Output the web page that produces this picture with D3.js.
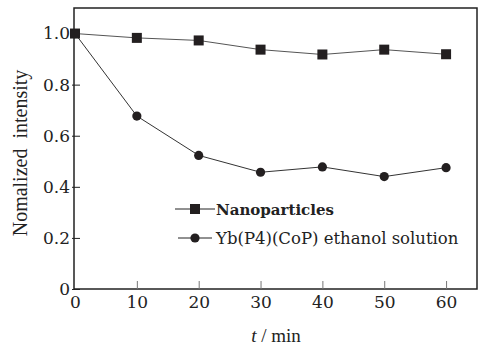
<!DOCTYPE html>
<html>
<head>
<meta charset="utf-8">
<script src="https://cdn.jsdelivr.net/npm/d3@7"></script>
<style>
  body { margin: 0; background: #fff; }
  svg text { font-family: "DejaVu Serif", "Liberation Serif", serif; fill: #222; }
  svg text.times { font-family: "Liberation Serif", serif; }
</style>
</head>
<body>
<div id="viz"></div>
<script>
const times = [0, 10, 20, 30, 40, 50, 60];
const nanoValues = [1.0, 0.983, 0.973, 0.937, 0.918, 0.937, 0.919];
const solutionValues = [1.0, 0.677, 0.523, 0.457, 0.478, 0.44, 0.475];
const xTicks = [0, 10, 20, 30, 40, 50, 60];
const yTicks = [0, 0.2, 0.4, 0.6, 0.8, 1.0];
const seriesNames = ['Nanoparticles', 'Yb(P4)(CoP) ethanol solution'];

const width = 487, height = 345;
const plotLeft = 74, plotRight = 477, plotTop = 8, plotBottom = 289;

const svg = d3.select('#viz').append('svg')
  .attr('width', width)
  .attr('height', height);

const x = d3.scaleLinear().domain([0, 65]).range([plotLeft + 1, plotRight]);
const y = d3.scaleLinear().domain([0, 1.1]).range([plotBottom, plotTop]);

// frame
svg.append('rect')
  .attr('x', plotLeft).attr('y', plotTop)
  .attr('width', plotRight - plotLeft).attr('height', plotBottom - plotTop)
  .attr('fill', 'none').attr('stroke', '#222').attr('stroke-width', 1.5);

// x axis
const xAxis = d3.axisBottom(x).tickValues(xTicks).tickSizeInner(-8).tickSizeOuter(0)
  .tickPadding(7).tickFormat(d3.format('d'));
const gx = svg.append('g').attr('transform', `translate(0,${plotBottom})`).call(xAxis);
gx.select('.domain').remove();
gx.selectAll('.tick line').attr('stroke', '#777');
gx.selectAll('.tick').filter(d => d === 0).select('line').remove();
gx.selectAll('text').attr('font-size', 17).attr('fill', '#222');

// y axis
const yAxis = d3.axisLeft(y).tickValues(yTicks).tickSizeInner(-6).tickSizeOuter(0)
  .tickPadding(4).tickFormat(d => d === 0 ? '0' : d3.format('.1f')(d));
const gy = svg.append('g').attr('transform', `translate(${plotLeft},0)`).call(yAxis);
gy.select('.domain').remove();
gy.selectAll('.tick line').attr('stroke', '#222').attr('x1', -2);
gy.selectAll('text').attr('font-size', 17).attr('fill', '#222');

// axis titles
svg.append('text')
  .attr('class', 'times')
  .attr('transform', 'translate(27,153) rotate(-90)')
  .attr('text-anchor', 'middle')
  .attr('font-size', 20)
  .attr('xml:space', 'preserve')
  .text('Nomalized  intensity');

const xt = svg.append('text')
  .attr('class', 'times')
  .attr('x', 276).attr('y', 342)
  .attr('text-anchor', 'middle')
  .attr('font-size', 19);
xt.append('tspan').attr('font-style', 'italic').text('t');
xt.append('tspan').text(' / min');

// lines + markers
const line = d3.line().x((d, i) => x(times[i])).y(d => y(d));

svg.append('path').datum(nanoValues)
  .attr('d', line).attr('fill', 'none').attr('stroke', '#555').attr('stroke-width', 1);
svg.append('path').datum(solutionValues)
  .attr('d', line).attr('fill', 'none').attr('stroke', '#333').attr('stroke-width', 1);

svg.selectAll('.sq').data(nanoValues).enter().append('rect')
  .attr('class', 'sq')
  .attr('x', (d, i) => x(times[i]) - 5)
  .attr('y', d => y(d) - 5)
  .attr('width', 10).attr('height', 10)
  .attr('fill', '#231f20');

svg.selectAll('.dot').data(solutionValues).enter().append('circle')
  .attr('class', 'dot')
  .attr('cx', (d, i) => x(times[i]))
  .attr('cy', d => y(d))
  .attr('r', 4.6)
  .attr('fill', '#231f20');

// legend
const legend = svg.append('g');
const rowY = [209, 238];
legend.append('line').attr('x1', 175).attr('x2', 215).attr('y1', rowY[0]).attr('y2', rowY[0])
  .attr('stroke', '#222');
legend.append('rect').attr('x', 190).attr('y', rowY[0] - 5).attr('width', 10).attr('height', 10)
  .attr('fill', '#231f20');
legend.append('text').attr('x', 216).attr('y', rowY[0] + 6)
  .attr('font-size', 15).attr('font-weight', 'bold').text(seriesNames[0]);

legend.append('line').attr('x1', 178).attr('x2', 212).attr('y1', rowY[1]).attr('y2', rowY[1])
  .attr('stroke', '#222');
legend.append('circle').attr('cx', 195).attr('cy', rowY[1]).attr('r', 4.6)
  .attr('fill', '#231f20');
legend.append('text').attr('x', 216).attr('y', rowY[1] + 6)
  .attr('font-size', 16.5).text(seriesNames[1]);
</script>
</body>
</html>
